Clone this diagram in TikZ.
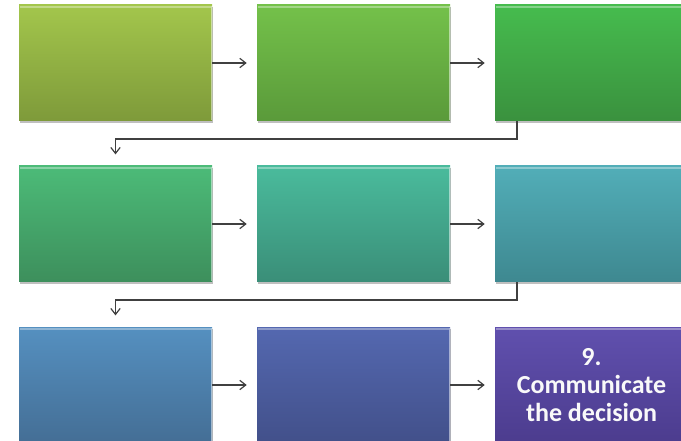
\documentclass[tikz,border=0pt]{standalone}
\usepackage{fontspec}
\setmainfont{Carlito}
\usetikzlibrary{arrows.meta,shadows,calc}
\definecolor{t1}{HTML}{A3C64C}\definecolor{b1}{HTML}{7E9A3A}
\definecolor{t2}{HTML}{74C14A}\definecolor{b2}{HTML}{5A9A3A}
\definecolor{t3}{HTML}{46BC4E}\definecolor{b3}{HTML}{3A913E}
\definecolor{t4}{HTML}{4CBB78}\definecolor{b4}{HTML}{3D8F5C}
\definecolor{t5}{HTML}{4ABB9C}\definecolor{b5}{HTML}{3A8E78}
\definecolor{t6}{HTML}{52AEB8}\definecolor{b6}{HTML}{3E8890}
\definecolor{t7}{HTML}{5590C0}\definecolor{b7}{HTML}{446E95}
\definecolor{t8}{HTML}{5468B0}\definecolor{b8}{HTML}{42508A}
\definecolor{t9}{HTML}{6050AE}\definecolor{b9}{HTML}{4C3C8E}
\definecolor{lnk}{HTML}{404040}
\tikzset{
  stepbox/.style n args={2}{rectangle, minimum width=144.75pt, minimum height=87pt,
    inner sep=0pt, top color=#1, bottom color=#2, draw=none,
    drop shadow={shadow xshift=1pt, shadow yshift=-1.5pt, opacity=0.25, fill=black}},
  conn/.style={draw=lnk, line width=0.9pt, -{Straight Barb[length=4.5pt,width=7pt]}},
  lbl/.style={text=white!95!gray, font=\bfseries\fontsize{19.5}{21}\selectfont, align=center}
}
\begin{document}
\begin{tikzpicture}[x=0.75pt,y=-0.75pt]
\useasboundingbox (0,0) rectangle (681,441);
\clip (0,0) rectangle (681,441);
\node[stepbox={t1}{b1}] (n1) at (115.5,63) {};
\node[stepbox={t2}{b2}] (n2) at (353.5,63) {};
\node[stepbox={t3}{b3}] (n3) at (591.5,63) {};
\node[stepbox={t4}{b4}] (n4) at (115.5,224) {};
\node[stepbox={t5}{b5}] (n5) at (353.5,224) {};
\node[stepbox={t6}{b6}] (n6) at (591.5,224) {};
\node[stepbox={t7}{b7}] (n7) at (115.5,385) {};
\node[stepbox={t8}{b8}] (n8) at (353.5,385) {};
\node[stepbox={t9}{b9}] (n9) at (591.5,385) {};
\node[lbl] (txt) at (591.5,385) {9.\\Communicate\\the decision};
% bevel highlights
\foreach \n in {n1,n2,n3,n4,n5,n6,n7,n8,n9}{
  \draw[white, opacity=0.35, line width=1.5pt] ($(\n.north west)+(1.5,2)$) -- ($(\n.north east)+(-1.5,2)$);
  \draw[white, opacity=0.5, line width=0.8pt] ($(\n.north east)+(-0.5,1)$) -- ($(\n.south east)+(-0.5,-1)$);
}
\draw[conn, shorten >=7.5pt] (n1) -- (n2);
\draw[conn, shorten >=7.5pt] (n2) -- (n3);
\draw[conn, shorten >=7.5pt] (n4) -- (n5);
\draw[conn, shorten >=7.5pt] (n5) -- (n6);
\draw[conn, shorten >=7.5pt] (n7) -- (n8);
\draw[conn, shorten >=7.5pt] (n8) -- (n9);
\coordinate (k1) at (517,139);
\coordinate (k2) at (517,300);
\draw[conn, shorten >=8.5pt] (n3.south -| k1) -- (k1) -| (n4.north);
\draw[conn, shorten >=8.5pt] (n6.south -| k2) -- (k2) -| (n7.north);
\end{tikzpicture}
\end{document}
